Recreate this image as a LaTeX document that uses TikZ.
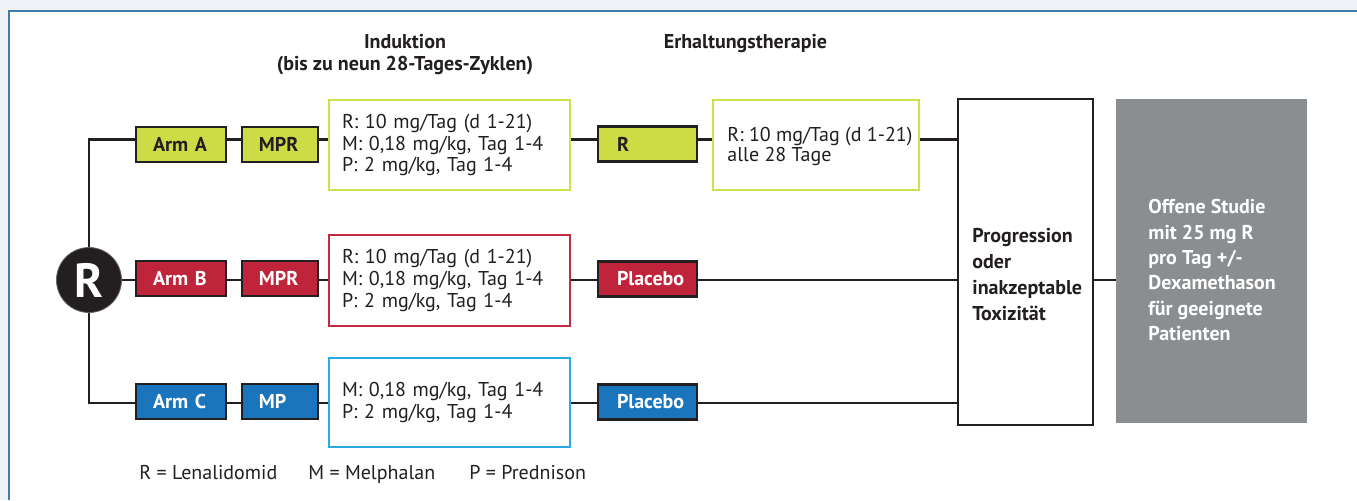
\documentclass[tikz,border=0pt]{standalone}
\usepackage{fontspec}
\setmainfont{PT Sans}
\definecolor{ink}{HTML}{231F20}
\definecolor{armgreen}{HTML}{CDDC45}
\definecolor{armred}{HTML}{C0243A}
\definecolor{armblue}{HTML}{1B75BC}
\definecolor{edgegreen}{HTML}{CFE04E}
\definecolor{edgered}{HTML}{C42A40}
\definecolor{edgeblue}{HTML}{2AAAE1}
\definecolor{panelgrey}{HTML}{8A8E90}
\definecolor{pagebg}{HTML}{EFF3F8}
\definecolor{frameblue}{HTML}{3F7FA7}
\newcommand{\bodyfont}{\fontsize{10}{12}\selectfont}
\begin{document}
\begin{tikzpicture}[x=0.5pt,y=-0.5pt,
  every node/.style={font=\bodyfont, text=ink},
  tag/.style={draw=ink, line width=1.3pt, minimum height=17.5pt, inner xsep=0pt, inner ysep=0pt,
    align=left, font=\bodyfont\bfseries},
  armbox/.style={tag, text width=45pt, execute at begin node={\hspace*{8.5pt}}},
  drugbox/.style={tag, text width=38pt, execute at begin node={\hspace*{8.5pt}}},
  maintbox/.style={tag, text width=49.5pt, execute at begin node={\hspace*{9.5pt}}},
  dosebox/.style={draw, line width=1.3pt, fill=white, text width=107.5pt, inner xsep=6.5pt,
    inner ysep=0pt, align=left, font=\fontsize{10}{10.85}\selectfont},
  link/.style={draw=ink, line width=1.3pt},
  heading/.style={font=\fontsize{10}{11}\selectfont\bfseries, align=center},
  whitetext/.style={text=white},
]
\useasboundingbox (0,0) rectangle (1357,500);
% page and frame
\fill[pagebg] (0,0) rectangle (1357,500);
\fill[white] (9,11) rectangle (1357,500);
\draw[frameblue, line width=1pt] (8.5,500) -- (8.5,10.5) -- (1357,10.5);

% column headings
\node[heading] (hind) at (405,55) {Induktion\\(bis zu neun 28-Tages-Zyklen)};
\node[heading] (hmaint) at (745.5,44) {Erhaltungstherapie};

% randomisation
\node[circle, fill=ink, draw=ink!70, line width=0.4pt, minimum size=32.5pt, inner sep=0pt,
  text=white, font=\fontsize{24}{24}\selectfont\bfseries] (circ) at (89,280) {R};

% arm boxes
\node[armbox, fill=armgreen] (armA) at (181,144.5) {Arm A};
\node[armbox, fill=armred, whitetext] (armB) at (181,278.5) {Arm B};
\node[armbox, fill=armblue, whitetext] (armC) at (181,401.5) {Arm C};

\node[drugbox, fill=armgreen] (mprA) at (280,144.5) {MPR};
\node[drugbox, fill=armred, whitetext] (mprB) at (280,278.5) {MPR};
\node[drugbox, fill=armblue, whitetext] (mpC) at (280,401.5) {MP};

% induction doses
\node[dosebox, draw=edgegreen, minimum height=45pt] (doseA) at (449.5,145)
  {R: 10 mg/Tag (d 1-21)\\M: 0,18 mg/kg, Tag 1-4\\P: 2 mg/kg, Tag 1-4};
\node[dosebox, draw=edgered, minimum height=45.5pt] (doseB) at (449.5,280.5)
  {R: 10 mg/Tag (d 1-21)\\M: 0,18 mg/kg, Tag 1-4\\P: 2 mg/kg, Tag 1-4};
\node[dosebox, draw=edgeblue, minimum height=44.5pt] (doseC) at (449.5,402.5)
  {M: 0,18 mg/kg, Tag 1-4\\P: 2 mg/kg, Tag 1-4};

% maintenance
\node[maintbox, fill=armgreen] (rA) at (647.5,144) {R};
\node[maintbox, fill=armred, whitetext] (plB) at (647.5,279) {Placebo};
\node[maintbox, fill=armblue, whitetext] (plC) at (647.5,402) {Placebo};

\node[draw=edgegreen, line width=1.3pt, fill=white, minimum width=103pt, minimum height=45pt,
  inner sep=0pt] (contA) at (816,145) {};
\node[anchor=north west, inner sep=0pt, align=left, font=\fontsize{10}{10}\selectfont]
  (contAtxt) at (727,126.5) {R: 10 mg/Tag (d 1-21)\\alle 28 Tage};

% end of treatment
\node[draw=ink, line width=1.1pt, fill=white, minimum width=67.5pt, minimum height=163pt,
  inner sep=0pt] (prog) at (1025.5,262) {};
\node[anchor=north west, inner sep=0pt, align=left, font=\fontsize{10}{12.9}\selectfont\bfseries]
  (progtxt) at (972,228) {Progression\\oder\\inakzeptable\\Toxizität};

\node[fill=panelgrey, minimum width=95.5pt, minimum height=162pt, inner sep=0pt] (open) at (1211.5,261) {};
\node[anchor=north west, inner sep=0pt, align=left, text=white,
  font=\fontsize{10}{12.7}\selectfont\bfseries]
  (opentxt) at (1148,199) {Offene Studie\\mit 25 mg R\\pro Tag +/-\\Dexamethason\\für geeignete\\Patienten};

% connector levels
\coordinate (lineA) at (0,139.5);
\coordinate (lineB) at (0,280);
\coordinate (lineC) at (0,403);

% connectors
\draw[link] (armA.west |- lineA) -| (circ.north);
\draw[link] (armC.west |- lineC) -| (circ.south);
\draw[link] (circ.east) -- (armB.west |- lineB);

\draw[link] (armA.east |- lineA) -- (mprA.west |- lineA);
\draw[link] (mprA.east |- lineA) -- (doseA.west |- lineA);
\draw[link] (doseA.east |- lineA) -- (rA.west |- lineA);
\draw[link] (rA.east |- lineA) -- (contA.west |- lineA);
\draw[link] (contA.east |- lineA) -- (prog.west |- lineA);

\draw[link] (armB.east |- lineB) -- (mprB.west |- lineB);
\draw[link] (mprB.east |- lineB) -- (doseB.west |- lineB);
\draw[link] (doseB.east |- lineB) -- (plB.west |- lineB);
\draw[link] (plB.east |- lineB) -- (prog.west |- lineB);

\draw[link] (armC.east |- lineC) -- (mpC.west |- lineC);
\draw[link] (mpC.east |- lineC) -- (doseC.west |- lineC);
\draw[link] (doseC.east |- lineC) -- (plC.west |- lineC);
\draw[link] (plC.east |- lineC) -- (prog.west |- lineC);

\draw[link] (prog.east |- lineB) -- (open.west |- lineB);

% legend
\node[anchor=base west, inner sep=0pt] (legR) at (139,479) {R = Lenalidomid};
\node[anchor=base west, inner sep=0pt] (legM) at (308,479) {M = Melphalan};
\node[anchor=base west, inner sep=0pt] (legP) at (469,479) {P = Prednison};
\end{tikzpicture}
\end{document}
